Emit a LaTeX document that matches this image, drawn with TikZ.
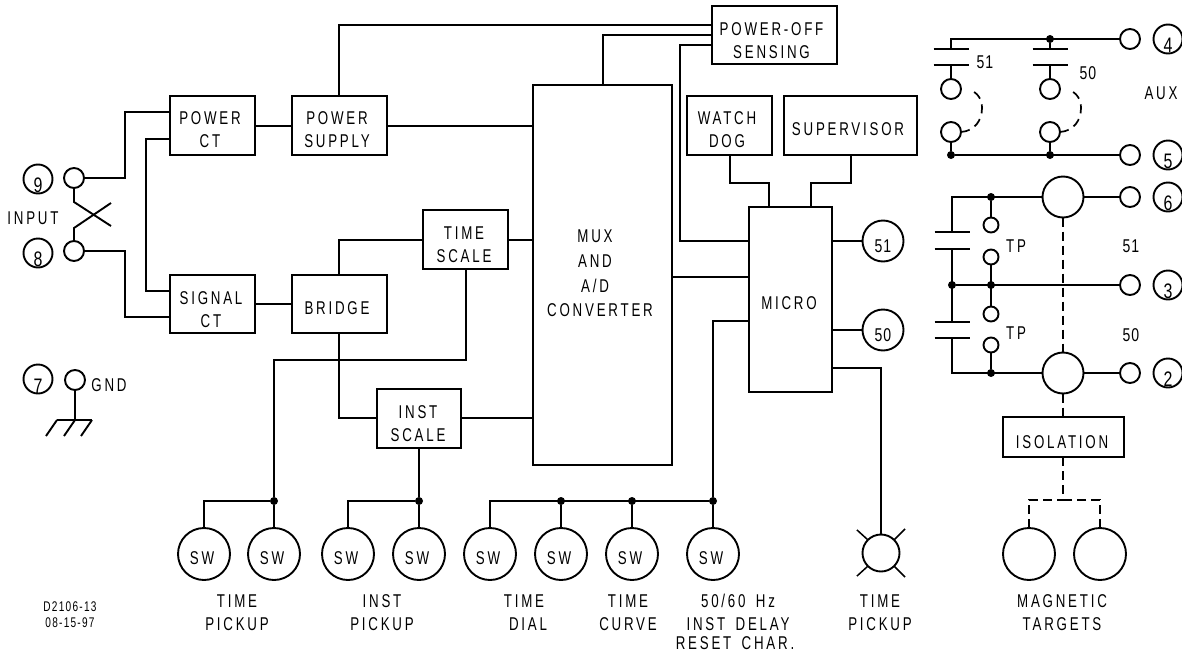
\documentclass[tikz,border=0pt]{standalone}
\usepackage{fontspec}
\setmainfont[FakeStretch=.72,LetterSpace=15,WordSpace=1.6]{Liberation Sans}
\newfontfamily\numfont[FakeStretch=.76,LetterSpace=5]{Liberation Sans}
\newfontfamily\smallfont[FakeStretch=.72,LetterSpace=9]{Liberation Sans}
\newcommand\tl[3][0pt]{\kern#1\raisebox{\dimexpr#2-1pt\relax}[0pt][0pt]{\begin{tabular}{@{}c@{}}#3\end{tabular}}}
\tikzset{
  wire/.style={line width=1.9pt,line cap=butt,line join=miter},
  dashwire/.style={line width=1.9pt,dash pattern=on 9pt off 5pt},
  box/.style={draw,line width=1.9pt,rectangle,inner sep=0pt,outer sep=0pt,font=\fontsize{18.5}{23}\selectfont},
  ring/.style={draw,line width=1.9pt,circle,inner sep=0pt,outer sep=0pt,font=\fontsize{18.5}{23}\selectfont},
  term/.style={ring,minimum size=20pt,fill=white},
  tpc/.style={ring,minimum size=15pt},
  sw/.style={ring,minimum size=52pt},
  pin/.style={ring,minimum size=29pt,font=\numfont\fontsize{21}{23}\selectfont},
  dot/.style={circle,fill=black,inner sep=0pt,minimum size=8pt},
  txt/.style={inner sep=0pt,font=\fontsize{18.5}{23}\selectfont},
  numtxt/.style={inner sep=0pt,font=\numfont\fontsize{18.5}{23}\selectfont},
  small/.style={inner sep=0pt,font=\smallfont\fontsize{14}{15}\selectfont},
}
\begin{document}
\begin{tikzpicture}[x=1pt,y=-1pt]
\useasboundingbox (0,0) rectangle (1182,653);
% boxes
\node[box,minimum width=85,minimum height=59] (pct) at (212.5,125.5) {\tl[-5pt]{-9.4pt}{POWER\\CT}};
\node[box,minimum width=95,minimum height=59] (psu) at (339.5,125.5) {\tl[-5pt]{-9.4pt}{POWER\\SUPPLY}};
\node[box,minimum width=85,minimum height=58] (sct) at (212.5,304) {\tl[-3pt]{-11pt}{SIGNAL\\CT}};
\node[box,minimum width=95,minimum height=58] (brg) at (339.5,304) {\tl[-5pt]{-9.4pt}{BRIDGE}};
\node[box,minimum width=85,minimum height=59] (tsc) at (465.5,239.5) {\tl[-3pt]{-10.4pt}{TIME\\SCALE}};
\node[box,minimum width=84,minimum height=59] (isc) at (419,418.5) {\tl[-2pt]{-10.4pt}{INST\\SCALE}};
\node[box,minimum width=139,minimum height=380] (mux) at (602.5,275) {\tl[-15pt]{-3.4pt}{MUX\\[1.7pt]AND\\[1.7pt]A/D\\[1.7pt]\kern10pt CONVERTER}};
\node[box,minimum width=125,minimum height=58] (pwr) at (774.5,35) {\tl[-6pt]{-10.9pt}{POWER-OFF\\SENSING}};
\node[box,minimum width=85,minimum height=59] (wdg) at (729.5,125.5) {\tl[-5pt]{-9.4pt}{WATCH\\DOG}};
\node[box,minimum width=133,minimum height=59] (sup) at (850.5,125.5) {\tl[-5pt]{-9pt}{SUPERVISOR}};
\node[box,minimum width=83,minimum height=185] (mic) at (790.5,299.5) {\tl[-3pt]{-8.9pt}{MICRO}};
\node[box,minimum width=121,minimum height=40] (iso) at (1063.5,437) {\tl[-3pt]{-10.4pt}{ISOLATION}};
% wire rails
\coordinate (ry1) at (0,126);
\coordinate (ry2) at (0,240);
\coordinate (ry3) at (0,418);
\coordinate (rx1) at (339,0);
\coordinate (rx2) at (603,0);
% output circles
\node[ring,minimum size=41pt,font=\numfont\fontsize{18.5}{23}\selectfont] (o51) at (883,241) {\tl{-10.4pt}{51}};
\node[ring,minimum size=41pt,font=\numfont\fontsize{18.5}{23}\selectfont] (o50) at (883,330) {\tl{-10.4pt}{50}};
% SW circles
\node[sw] (s1) at (204,554) {\tl[-4pt]{-9.4pt}{SW}};
\node[sw] (s2) at (274,554) {\tl[-4pt]{-9.4pt}{SW}};
\node[sw] (s3) at (348,554) {\tl[-4pt]{-9.4pt}{SW}};
\node[sw] (s4) at (419,554) {\tl[-4pt]{-9.4pt}{SW}};
\node[sw] (s5) at (490,554) {\tl[-4pt]{-9.4pt}{SW}};
\node[sw] (s6) at (561,554) {\tl[-4pt]{-9.4pt}{SW}};
\node[sw] (s7) at (632,554) {\tl[-4pt]{-9.4pt}{SW}};
\node[sw] (s8) at (713,554) {\tl[-4pt]{-9.4pt}{SW}};
\node[ring,minimum size=37pt] (lamp) at (881,553) {};
\node[sw] (mt1) at (1029,554) {};
\node[sw] (mt2) at (1100,554) {};
% bus dots
\node[dot] (d1) at (274,501) {};
\node[dot] (d2) at (419,501) {};
\node[dot] (d3) at (561,501) {};
\node[dot] (d4) at (632,501) {};
\node[dot] (d5) at (713,501) {};
% input side
\node[term] (t9) at (74,178) {};
\node[term] (t8) at (74,251) {};
\node[term] (t7) at (75,380) {};
\node[pin] (p9) at (38,179) {\tl{-12.6pt}{9}};
\node[pin] (p8) at (38,253) {\tl{-12.6pt}{8}};
\node[pin] (p7) at (38,379) {\tl{-13.6pt}{7}};
\node[txt] (linput) at (33,218) {INPUT};
\node[txt] (lgnd) at (109,385) {GND};
\coordinate (c1) at (125,112);
\coordinate (c2) at (125,317);
\coordinate (c3) at (146,139);
\coordinate (c4) at (146,291);
\draw[wire] (t9.east) -| (c1) -- (c1 -| pct.west);
\draw[wire] (t8.east) -| (c2) -- (c2 -| sct.west);
\draw[wire] (c3 -| pct.west) -- (c3) -- (c4) -- (c4 -| sct.west);
\coordinate (x1) at (74,202);
\coordinate (x2) at (111,226);
\coordinate (x3) at (74,228);
\coordinate (x4) at (111,203);
\draw[wire] (t9.south) -- (x1) -- (x2);
\draw[wire] (t8.north) -- (x3) -- (x4);
\coordinate (g0) at (75,420);
\coordinate (g1) at (57,420);
\coordinate (g2) at (92,420);
\draw[wire] (t7.south) -- (g0);
\draw[wire] (g1) -- (g2);
\draw[wire] (g1) -- ++(-11,16);
\draw[wire] (g0) -- ++(-11,16);
\draw[wire] (g2) -- ++(-11,16);
% main wiring
\draw[wire] (pct.east |- ry1) -- (psu.west |- ry1);
\draw[wire] (sct.east) -- (brg.west);
\draw[wire] (psu.east |- ry1) -- (mux.west |- ry1);
\coordinate (a1) at (712,25);
\coordinate (a2) at (712,35);
\coordinate (a3) at (680,45);
\coordinate (a4) at (680,241);
\draw[wire] (rx1 |- psu.north) |- (a1);
\draw[wire] (rx2 |- mux.north) |- (a2);
\draw[wire] (a3 -| pwr.west) -- (a3) -- (a4) -- (a4 -| mic.west);
\draw[wire] (rx1 |- brg.north) |- (tsc.west |- ry2);
\draw[wire] (tsc.east |- ry2) -- (mux.west |- ry2);
\draw[wire] (rx1 |- brg.south) |- (isc.west |- ry3);
\draw[wire] (isc.east |- ry3) -- (mux.west |- ry3);
\coordinate (b1) at (466,360);
\draw[wire] (b1 |- tsc.south) -- (b1) -| (d1);
\draw[wire] (isc.south) -- (d2);
\coordinate (m1) at (672,277);
\draw[wire] (m1) -- (m1 -| mic.west);
\coordinate (m2) at (713,321);
\draw[wire] (d5) -- (m2) -- (m2 -| mic.west);
\coordinate (w1) at (730,183);
\coordinate (w2) at (769,183);
\draw[wire] (w1 |- wdg.south) -- (w1) -- (w2) -- (w2 |- mic.north);
\coordinate (w3) at (851,183);
\coordinate (w4) at (811,183);
\draw[wire] (w3 |- sup.south) -- (w3) -- (w4) -- (w4 |- mic.north);
\draw[wire] (o51.west -| mic.east) -- (o51.west);
\draw[wire] (o50.west -| mic.east) -- (o50.west);
\coordinate (m3) at (881,368);
\draw[wire] (m3 -| mic.east) -- (m3) -- (lamp.north);
% SW bus
\draw[wire] (s1.north) |- (d1) -- (s2.north);
\draw[wire] (s3.north) |- (d2) -- (s4.north);
\draw[wire] (s5.north) |- (d5) -- (s8.north);
\draw[wire] (d3) -- (s6.north);
\draw[wire] (d4) -- (s7.north);
% lamp rays
\draw[line width=1.5pt] (lamp.45) -- ++(11,-11);
\draw[line width=1.5pt] (lamp.135) -- ++(-11,-10);
\draw[line width=1.5pt] (lamp.225) -- ++(-11,10);
\draw[line width=1.5pt] (lamp.315) -- ++(11,11);
% right side terminals
\node[term] (t4) at (1130,39) {};
\node[term] (t5) at (1130,155) {};
\node[term] (t6) at (1130,197) {};
\node[term] (t3) at (1130,285) {};
\node[term] (t2) at (1130,373) {};
\node[pin] (p4) at (1168,39) {\tl{-12.6pt}{4}};
\node[pin] (p5) at (1168,155) {\tl{-12.6pt}{5}};
\node[pin] (p6) at (1168,197) {\tl{-12.6pt}{6}};
\node[pin] (p3) at (1168,285) {\tl{-12.6pt}{3}};
\node[pin] (p2) at (1168,373) {\tl{-12.6pt}{2}};
\node[numtxt] (l51a) at (985,62) {51};
\node[numtxt] (l50a) at (1088,73) {50};
\node[txt] (laux) at (1161,93) {AUX};
\node[txt] (ltp1) at (1016,246) {TP};
\node[txt] (ltp2) at (1016,333) {TP};
\node[numtxt] (l51b) at (1131,246) {51};
\node[numtxt] (l50b) at (1131,335) {50};
% aux contacts
\node[term] (k1) at (951,89) {};
\node[term] (k2) at (951,132) {};
\node[term] (k3) at (1050,89) {};
\node[term] (k4) at (1050,132) {};
\node[dot] (dk1) at (1050,39) {};
\node[dot] (dk2) at (951,155) {};
\node[dot] (dk3) at (1050,155) {};
\coordinate (q1) at (951,49);
\coordinate (q2) at (951,65);
\coordinate (q3) at (1050,49);
\coordinate (q4) at (1050,65);
\draw[wire] (q1) -- (q1 |- t4.west) -- (t4.west);
\draw[wire] (dk1) -- (q3);
\draw[wire] (q2) -- (k1.north);
\draw[wire] (q4) -- (k3.north);
\draw[wire] (k2.south) -- (dk2);
\draw[wire] (k4.south) -- (dk3);
\draw[wire] (dk2) -- (t5.west);
\foreach \p in {q1,q2,q3,q4}{\draw[wire] ([xshift=-17.5]\p) -- ([xshift=17.5]\p);}
\draw[line width=1.7pt,dash pattern=on 9pt off 6pt] (k2.east) .. controls (975,131) and (982,120) .. (982,108) .. controls (982,100) and (978,92) .. (969,90);
\draw[line width=1.7pt,dash pattern=on 9pt off 6pt] (k4.east) .. controls (1074,131) and (1081,120) .. (1081,108) .. controls (1081,100) and (1077,92) .. (1068,90);
% lower right
\node[ring,minimum size=41pt] (r1) at (1063,197) {};
\node[ring,minimum size=41pt] (r2) at (1063,373) {};
\node[dot] (e1) at (991,197) {};
\node[dot] (e2) at (991,285) {};
\node[dot] (e3) at (991,373) {};
\node[dot] (e4) at (952,285) {};
\node[tpc] (tp1) at (991,225) {};
\node[tpc] (tp2) at (991,257) {};
\node[tpc] (tp3) at (991,314) {};
\node[tpc] (tp4) at (991,345) {};
\coordinate (u1) at (952,232);
\coordinate (u2) at (952,249);
\coordinate (u3) at (952,322);
\coordinate (u4) at (952,338);
\draw[wire] (u1) |- (r1.west);
\draw[wire] (r1.east) -- (t6.west);
\draw[wire] (u2) -- (u3);
\draw[wire] (u4) |- (r2.west);
\draw[wire] (r2.east) -- (t2.west);
\draw[wire] (e4) -- (t3.west);
\draw[wire] (e1) -- (tp1.north);
\draw[wire] (tp2.south) -- (tp3.north);
\draw[wire] (e3) -- (tp4.south);
\foreach \p in {u1,u2,u3,u4}{\draw[wire] ([xshift=-17.5]\p) -- ([xshift=17.5]\p);}
\draw[dashwire] (r1.south) -- (r2.north);
\draw[dashwire] (r2.south) -- (r2.south |- iso.north);
\coordinate (h0) at (1063,500);
\draw[dashwire] (h0 |- iso.south) -- (h0);
\draw[dashwire] (mt1.north) |- (h0);
\draw[dashwire] (mt2.north) |- (h0);
% bottom labels
\node[small] (ld1) at (70,607) {D2106-13};
\node[small] (ld2) at (70,623) {08-15-97};
\node[txt] (la1) at (237,601) {TIME};
\node[txt] (la2) at (237,624) {PICKUP};
\node[txt] (lb1) at (382,601) {INST};
\node[txt] (lb2) at (382,624) {PICKUP};
\node[txt] (lc1) at (524,601) {TIME};
\node[txt] (lc2) at (528,624) {DIAL};
\node[txt] (ld3) at (628,601) {TIME};
\node[txt] (ld4) at (628,624) {CURVE};
\node[txt] (le1) at (738,601) {50/60 Hz};
\node[txt] (le2) at (738,624) {INST DELAY};
\node[txt] (le3) at (735,643) {RESET CHAR.};
\node[txt] (lf1) at (880,601) {TIME};
\node[txt] (lf2) at (880,624) {PICKUP};
\node[txt] (lg1) at (1062,601) {MAGNETIC};
\node[txt] (lg2) at (1062,624) {TARGETS};
\end{tikzpicture}
\end{document}
